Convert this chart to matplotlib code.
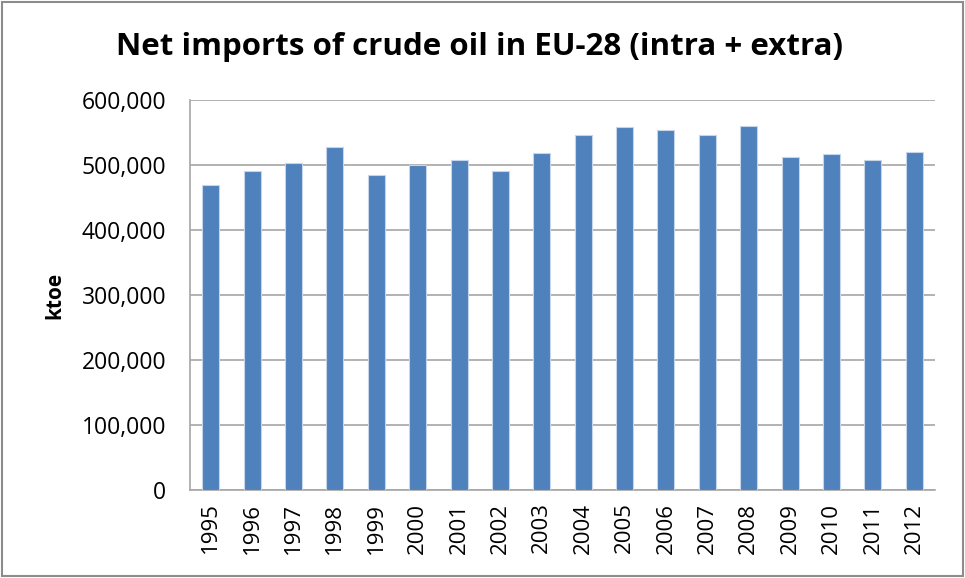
import matplotlib.pyplot as plt
from matplotlib.patches import Rectangle
from matplotlib.ticker import FuncFormatter

years = ['1995', '1996', '1997', '1998', '1999', '2000', '2001', '2002', '2003',
         '2004', '2005', '2006', '2007', '2008', '2009', '2010', '2011', '2012']
imports = [469000, 491000, 503000, 528000, 485000, 499500, 507000, 491000, 519000,
           546000, 558000, 554000, 546000, 560000, 513000, 517000, 507000, 520000]

plt.rcParams['font.family'] = ['Open Sans', 'DejaVu Sans']

fig = plt.figure(figsize=(9.65, 5.78), dpi=100)
ax = fig.add_axes([190 / 965, 1 - 490 / 578, 745 / 965, 390 / 578])

x = range(len(years))
ax.bar(x, imports, width=0.41, color='#4F81BD', edgecolor='#C6D5EA', linewidth=0.8, zorder=3)

ax.set_xlim(-0.5, len(years) - 0.5)
ax.set_ylim(0, 600000)
ax.set_yticks(range(0, 600001, 100000))
ax.yaxis.set_major_formatter(FuncFormatter(lambda v, p: f'{int(v):,}'))
ax.set_xticks(list(x))
ax.set_xticklabels(years, rotation=90, fontsize=16)
ax.tick_params(axis='y', labelsize=16.5, length=0, pad=17)
ax.tick_params(axis='x', length=0, pad=9)

ax.grid(axis='y', color='#A6A6A6', linewidth=1.2, zorder=0)
for s in ['top', 'right']:
    ax.spines[s].set_visible(False)
for s in ['left', 'bottom']:
    ax.spines[s].set_color('#A6A6A6')
    ax.spines[s].set_linewidth(1.2)

ax.set_ylabel('ktoe', fontsize=15, fontweight='bold', labelpad=12)
fig.text(0.497, 1 - 47 / 578, 'Net imports of crude oil in EU-28 (intra + extra)',
         ha='center', va='center', fontsize=22.5, fontweight='bold')

fig.patches.append(Rectangle((0.002, 0.003), 0.996, 0.994, transform=fig.transFigure,
                             fill=False, edgecolor='#8C8C8C', linewidth=1.5))

fig.savefig('out.png', dpi=100)
